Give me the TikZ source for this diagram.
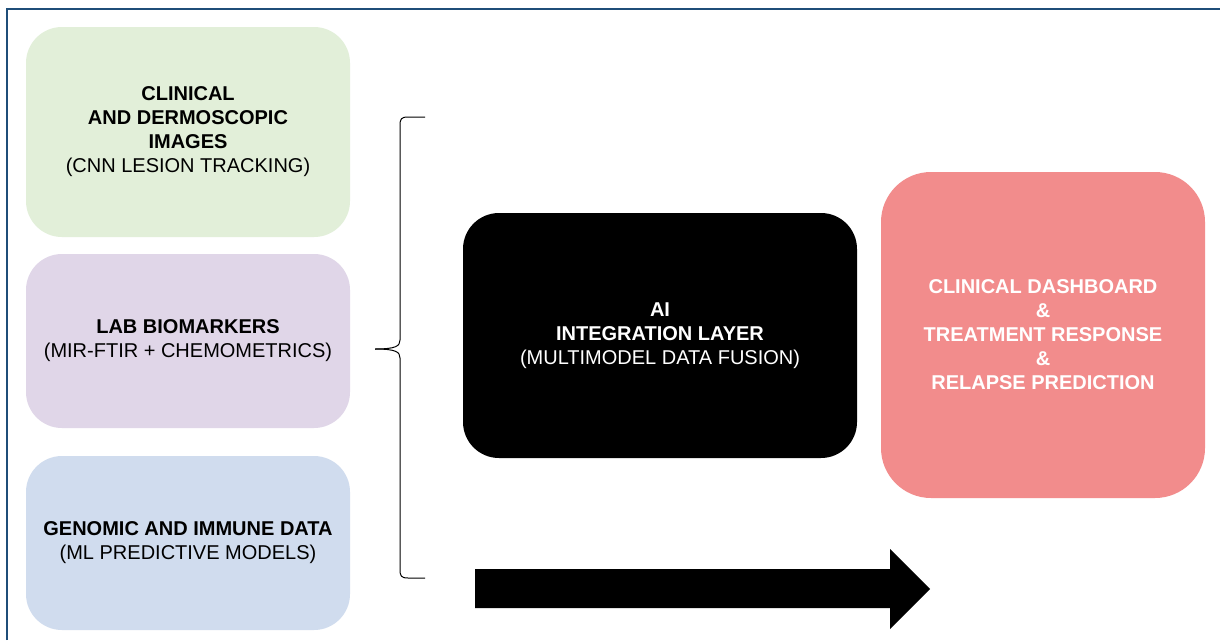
\documentclass[tikz,border=0pt]{standalone}
\usepackage{fontspec}
\setmainfont{Liberation Sans}
\definecolor{framecol}{HTML}{1F4E79}
\definecolor{greenbox}{HTML}{E2EFD9}
\definecolor{purplebox}{HTML}{E0D6E8}
\definecolor{bluebox}{HTML}{D0DCEE}
\definecolor{redbox}{HTML}{F28C8C}
\begin{document}
\begin{tikzpicture}[x=1pt,y=-1pt,
    databox/.style={rectangle,rounded corners=36pt,inner sep=0pt,align=center,
      minimum width=324pt,font=\fontsize{20}{24}\selectfont},
    bracepath/.style={line width=1pt,line join=round}]
  \useasboundingbox (0,0) rectangle (1220,640);
  \fill[white] (0,0) rectangle (1220,640);
  \draw[framecol,line width=2pt] (7,640) -- (7,9) -- (1220,9);
  \draw
    (188,132) node[databox,fill=greenbox,minimum height=210pt] (clinical)
      {\bfseries CLINICAL\\\bfseries AND DERMOSCOPIC\\\bfseries IMAGES\\(CNN LESION TRACKING)}
    (188,341) node[databox,fill=purplebox,minimum height=174pt] (lab)
      {\bfseries LAB BIOMARKERS\\(MIR-FTIR + CHEMOMETRICS)}
    (188,543) node[databox,fill=bluebox,minimum height=174pt] (genomic)
      {\bfseries GENOMIC AND IMMUNE DATA\\(ML PREDICTIVE MODELS)}
    (660,335.5) node[databox,fill=black,text=white,minimum width=394pt,
      minimum height=245pt] (ai)
      {\bfseries AI\\\bfseries INTEGRATION LAYER\\(MULTIMODEL DATA FUSION)}
    (1043,335) node[databox,fill=redbox,text=white,rounded corners=50pt,
      minimum height=326pt] (dashboard)
      {\bfseries CLINICAL DASHBOARD\\\bfseries \&\\\bfseries TREATMENT RESPONSE\\
       \bfseries \&\\\bfseries RELAPSE PREDICTION};
  \coordinate (bracetop) at (425,117);
  \coordinate (bracebot) at (425,578);
  \coordinate (bracetip) at (375,349);
  \begin{scope}[bracepath]
    \draw (bracetop) -- (408,117) .. controls (401,117) and (400,119) .. (400,126)
      -- (400,340) .. controls (400,346) and (396,349) .. (bracetip);
    \draw (bracebot) -- (408,578) .. controls (401,578) and (400,576) .. (400,569)
      -- (400,358) .. controls (400,352) and (396,349) .. (bracetip);
  \end{scope}
  \coordinate (arrowtail) at (475,589);
  \coordinate (arrowtip) at (930,589);
  \fill[black] (475,569) -- (890,569) -- (890,549) -- (arrowtip) -- (890,629)
    -- (890,608) -- (475,608) -- cycle;
\end{tikzpicture}
\end{document}
